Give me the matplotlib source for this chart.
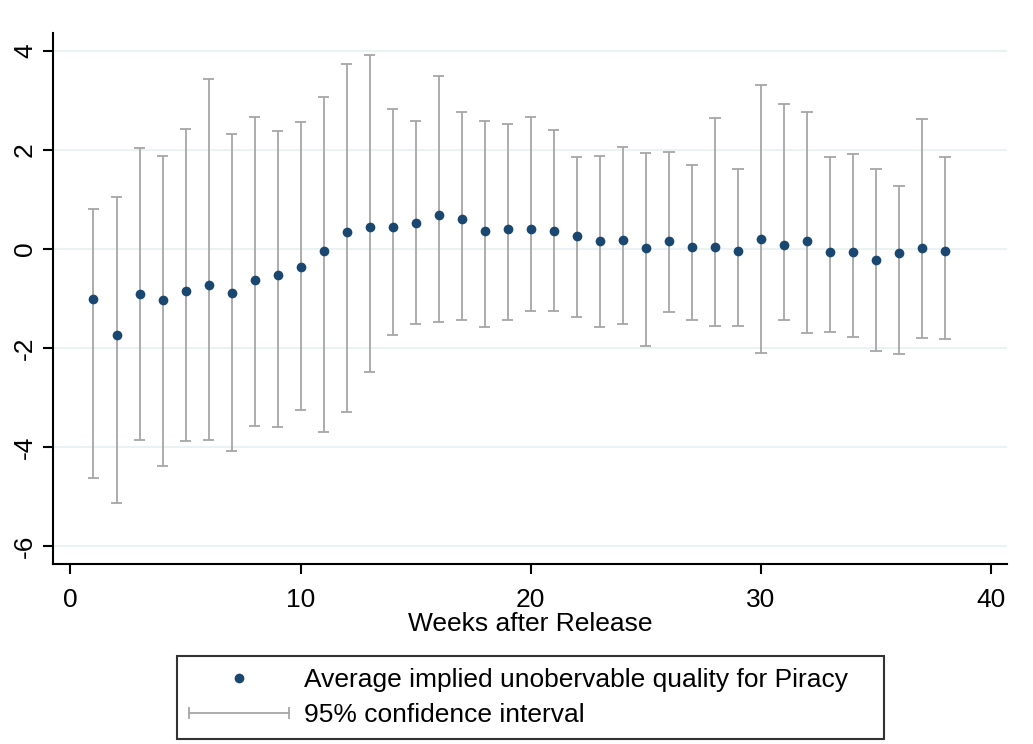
import matplotlib
matplotlib.use("Agg")
import matplotlib.pyplot as plt
from matplotlib.lines import Line2D
from matplotlib.legend_handler import HandlerLine2D

plt.rcParams['font.family'] = ['Liberation Sans', 'DejaVu Sans']
plt.rcParams['axes.unicode_minus'] = False

weeks = list(range(1, 39))
estimate = [-1.01, -1.74, -0.90, -1.03, -0.84, -0.72, -0.88, -0.63, -0.53, -0.36,
            -0.05, 0.34, 0.45, 0.45, 0.52, 0.68, 0.60, 0.37, 0.41, 0.41,
            0.37, 0.26, 0.16, 0.18, 0.01, 0.16, 0.03, 0.03, -0.05, 0.20,
            0.09, 0.16, -0.07, -0.07, -0.22, -0.09, 0.01, -0.04]
ci_upper = [0.80, 1.05, 2.03, 1.87, 2.43, 3.43, 2.33, 2.66, 2.39, 2.56,
            3.06, 3.73, 3.91, 2.83, 2.59, 3.50, 2.77, 2.59, 2.52, 2.66,
            2.41, 1.85, 1.87, 2.06, 1.93, 1.95, 1.69, 2.65, 1.62, 3.31,
            2.93, 2.77, 1.86, 1.91, 1.61, 1.28, 2.62, 1.86]
ci_lower = [-4.62, -5.13, -3.86, -4.39, -3.88, -3.86, -4.07, -3.57, -3.59, -3.25,
            -3.70, -3.30, -2.49, -1.73, -1.51, -1.48, -1.43, -1.57, -1.43, -1.25,
            -1.25, -1.38, -1.58, -1.51, -1.96, -1.28, -1.43, -1.55, -1.55, -2.11,
            -1.43, -1.70, -1.68, -1.78, -2.06, -2.13, -1.79, -1.81]
x_ticks = [0, 10, 20, 30, 40]
y_ticks = [-6, -4, -2, 0, 2, 4]
x_label = "Weeks after Release"
label_point = "Average implied unobervable quality for Piracy"
label_ci = "95% confidence interval"

navy = '#1a476f'
ci_col = '#a6a6a6'
fs = 19

fig = plt.figure(figsize=(10.33, 7.44), dpi=100)
ax = fig.add_axes([53/1033, 1 - 564/744, (1007 - 53)/1033, (564 - 33)/744])

ax.set_xlim(-0.76, 40.7)
ax.set_ylim(-6.36, 4.36)

for yv in y_ticks:
    ax.axhline(yv, color='#eaf2f3', lw=1.5, zorder=0)

ax.vlines(weeks, ci_lower, ci_upper, color=ci_col, lw=1.3, zorder=2)
ax.hlines(ci_upper, [w - 0.25 for w in weeks], [w + 0.25 for w in weeks], color=ci_col, lw=1.3, zorder=2)
ax.hlines(ci_lower, [w - 0.25 for w in weeks], [w + 0.25 for w in weeks], color=ci_col, lw=1.3, zorder=2)
ax.plot(weeks, estimate, 'o', color=navy, ms=7, zorder=3, markeredgewidth=0)

for s in ['top', 'right']:
    ax.spines[s].set_visible(False)
for s in ['left', 'bottom']:
    ax.spines[s].set_linewidth(1.5)
    ax.spines[s].set_color('black')

ax.set_xticks(x_ticks)
ax.set_yticks(y_ticks)
ax.tick_params(axis='both', direction='out', length=7.5, width=1.5, labelsize=fs, colors='black')
ax.tick_params(axis='x', pad=10)
ax.tick_params(axis='y', pad=4)
for lab in ax.get_yticklabels():
    lab.set_rotation(90)
    lab.set_va('center')
ax.set_xlabel(x_label, fontsize=fs, labelpad=0)

h_point = Line2D([], [], ls='none', marker='o', color=navy, ms=7, markeredgewidth=0)
h_ci = Line2D([], [], color=ci_col, lw=1.3, marker='|', ms=9, markeredgewidth=1.3)
leg = fig.legend([h_point, h_ci], [label_point, label_ci],
                 handler_map={h_point: HandlerLine2D(numpoints=1), h_ci: HandlerLine2D(numpoints=2, marker_pad=0)},
                 loc='lower left', bbox_to_anchor=(177/1033, 1 - 739/744, (884 - 177)/1033, 0.1),
                 mode='expand', fontsize=fs, handlelength=3.8, handletextpad=0.55,
                 borderpad=0.45, labelspacing=0.42, borderaxespad=0,
                 fancybox=False, frameon=True)
leg.get_frame().set_edgecolor('black')
leg.get_frame().set_linewidth(1.5)

fig.savefig('out.png', dpi=100, facecolor='white')
